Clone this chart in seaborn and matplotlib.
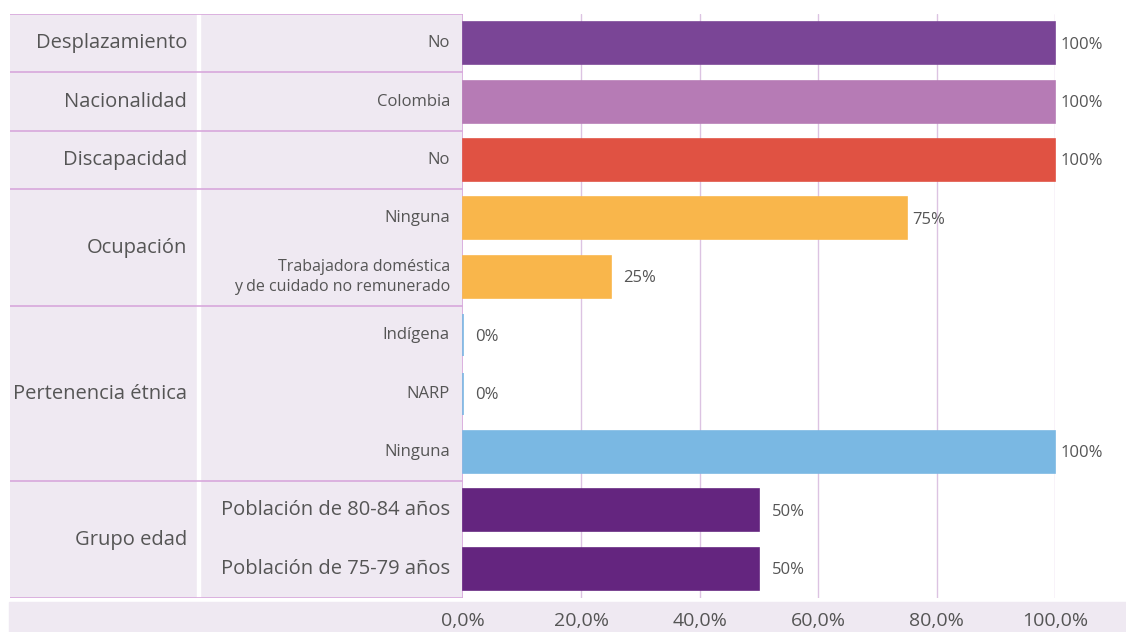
import numpy as np
import pandas as pd
import matplotlib
matplotlib.use("Agg")
import matplotlib.pyplot as plt
import seaborn as sns
from matplotlib.patches import Rectangle

sns.set_style("white")
plt.rcParams['font.family'] = ['Open Sans', 'DejaVu Sans']

# data
groups = ['Desplazamiento', 'Nacionalidad', 'Discapacidad', 'Ocupación',
          'Pertenencia étnica', 'Grupo edad']
group_sizes = [1, 1, 1, 2, 3, 2]
subcats = ['No', 'Colombia', 'No', 'Ninguna',
           'Trabajadora doméstica\ny de cuidado no remunerado',
           'Indígena', 'NARP', 'Ninguna',
           'Población de 80-84 años', 'Población de 75-79 años']
values = [100, 100, 100, 75, 25, 0, 0, 100, 50, 50]
group_colors = ['#7a4596', '#b67bb5', '#e05243', '#f9b64b', '#7ab8e3', '#64257f']
xticks = [0, 20, 40, 60, 80, 100]

rows = np.arange(len(subcats))
row_group = np.repeat(groups, group_sizes)
df = pd.DataFrame({'row': rows.astype(str), 'value': values, 'group': row_group})

W, H = 1126, 632
fig = plt.figure(figsize=(W / 100, H / 100), dpi=100)
bottom = 1 - 598 / H
height = (598 - 14) / H
ax = fig.add_axes([463 / W, bottom, (1055 - 463) / W, height])
axt = fig.add_axes([10 / W, bottom, (463 - 10) / W, height], sharey=ax)
ax.set_zorder(2)
ax.patch.set_alpha(0)

text_c = '#555555'
line_c = '#d8a8dc'
grid_c = '#dcc3e2'
bg_c = '#efe9f2'

# tick label band behind the x labels
fig.patches.append(Rectangle((9 / W, 0), 1 - 9 / W, (632 - 602) / H,
                             transform=fig.transFigure, color=bg_c, zorder=-5))

pal = dict(zip(groups, group_colors))
sns.barplot(data=df, x='value', y='row', hue='group', palette=pal, orient='h',
            width=0.72, dodge=False, legend=False, saturation=1, ax=ax, zorder=3)
for p in ax.patches:
    p.set_edgecolor(p.get_facecolor())
    p.set_linewidth(1.2)
    p.set_clip_on(False)

ax.set_xlim(0, 100)
ax.set_ylim(len(subcats) - 0.5, -0.5)
ax.set_xticks(xticks)
ax.set_xticklabels([f'{t},0%' for t in xticks], fontsize=14, color=text_c)
ax.tick_params(axis='x', length=0, pad=10)
ax.tick_params(axis='y', length=0, labelleft=False)
ax.set_xlabel('')
ax.set_ylabel('')
for s in ax.spines.values():
    s.set_visible(False)
for t in xticks[1:]:
    ax.axvline(t, color=grid_c, lw=1, zorder=1)

for r, v in zip(rows, values):
    off = 4 if v >= 75 else 9
    ax.annotate(f'{v}%', xy=(v, r), xytext=(off, -1),
                textcoords='offset points', va='center', ha='left',
                fontsize=12, color=text_c, annotation_clip=False)

# left table
axt.set_facecolor(bg_c)
axt.set_xlim(0, 453)
for s in axt.spines.values():
    s.set_visible(False)
axt.tick_params(left=False, bottom=False, labelleft=False, labelbottom=False)
axt.axvspan(187, 190, color='white', zorder=1)
axt.axvline(453, color=line_c, lw=1.2)

sub_sizes = [12, 12, 12, 12, 11.5, 12, 12, 12, 14.5, 14.5]
bounds = np.concatenate([[0], np.cumsum(group_sizes)]) - 0.5
for b in bounds:
    axt.axhline(b, color=line_c, lw=1.2, zorder=2)
for g, lo, hi in zip(groups, bounds[:-1], bounds[1:]):
    axt.text(177, (lo + hi) / 2, g, ha='right', va='center', fontsize=14.5,
             color=text_c)
for r, lab, fs in zip(rows, subcats, sub_sizes):
    axt.text(440, r, lab, ha='right', va='center', fontsize=fs, color=text_c,
             linespacing=1.3)

fig.savefig('out.png', dpi=100)
